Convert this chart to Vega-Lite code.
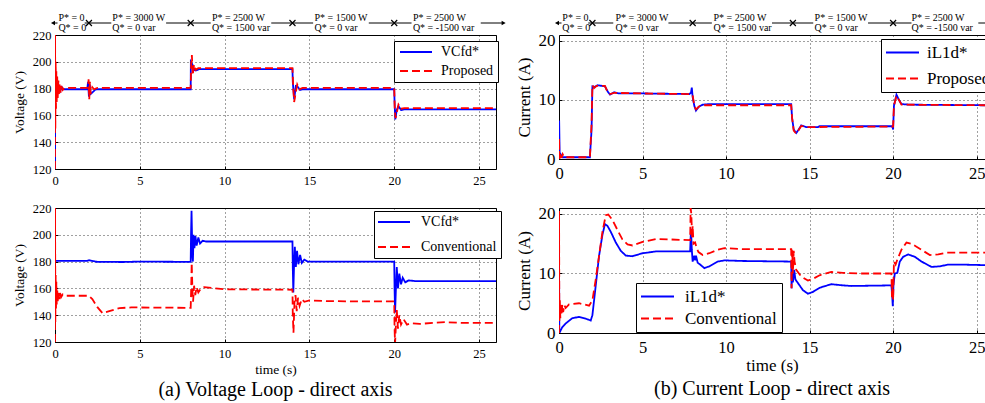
{
  "$schema": "https://vega.github.io/schema/vega-lite/v6.json",
  "background": "white",
  "padding": {"left": 11, "top": 11, "right": 0, "bottom": 0},
  "config": {
    "font": "Liberation Serif",
    "view": {"stroke": "#000", "strokeWidth": 1},
    "axis": {
      "labelFont": "Liberation Serif", "titleFont": "Liberation Serif", "titleFontWeight": "normal",
      "labelColor": "#000", "titleColor": "#000", "grid": true, "gridColor": "#000",
      "gridDash": [1, 3], "gridOpacity": 0.75, "domain": false, "ticks": true, "tickSize": -3,
      "tickColor": "#000", "tickWidth": 1,
      "labelFlush": false, "labelOverlap": false, "labelBound": false
    },
    "title": {"font": "Liberation Serif", "fontSize": 20, "fontWeight": "normal", "color": "#000", "orient": "bottom", "anchor": "middle"},
    "legend": {
      "orient": "none", "title": null, "direction": "vertical", "fillColor": "#fff", "strokeColor": "#000",
      "symbolStrokeWidth": 2, "symbolSize": 100, "labelFont": "Liberation Serif", "labelColor": "#000",
      "cornerRadius": 0
    }
  },
  "datasets": {
    "annLabels": [
      {"t": 0.2, "row": 1, "txt": "P* = 0"}, {"t": 0.2, "row": 0, "txt": "Q* = 0"},
      {"t": 3.38, "row": 1, "txt": "P* = 3000 W"}, {"t": 3.38, "row": 0, "txt": "Q* = 0 var"},
      {"t": 9.25, "row": 1, "txt": "P* = 2500 W"}, {"t": 9.25, "row": 0, "txt": "Q* = 1500 var"},
      {"t": 15.3, "row": 1, "txt": "P* = 1500 W"}, {"t": 15.3, "row": 0, "txt": "Q* = 0 var"},
      {"t": 21.1, "row": 1, "txt": "P* = 2500 W"}, {"t": 21.1, "row": 0, "txt": "Q* = -1500 var"}
    ],
    "annSteps": [{"t": 2}, {"t": 8}, {"t": 14}, {"t": 20}],
    "annSegL": [
      {"a": -0.1, "b": 0.15}, {"a": 1.75, "b": 3.32}, {"a": 6.55, "b": 9.18},
      {"a": 12.75, "b": 15.22}, {"a": 18.5, "b": 21.02}, {"a": 25.1, "b": 26.4}
    ],
    "annSegR": [
      {"a": -0.1, "b": 0.15}, {"a": 1.75, "b": 3.25}, {"a": 6.55, "b": 9.15},
      {"a": 12.75, "b": 15.22}, {"a": 18.5, "b": 21.1}, {"a": 25.1, "b": 25.5}
    ],
    "annArrowL": [{"t": -0.12, "dir": "left"}, {"t": 26.45, "dir": "right"}],
    "annArrowR": [{"t": -0.12, "dir": "left"}],
    "voltProposed": [
      {"s": "VCfd*", "t": 0, "v": 120}, {"s": "VCfd*", "t": 0.01, "v": 195}, {"s": "VCfd*", "t": 0.05, "v": 172},
      {"s": "VCfd*", "t": 0.1, "v": 186}, {"s": "VCfd*", "t": 0.15, "v": 176}, {"s": "VCfd*", "t": 0.2, "v": 183},
      {"s": "VCfd*", "t": 0.3, "v": 178}, {"s": "VCfd*", "t": 0.4, "v": 181}, {"s": "VCfd*", "t": 0.5, "v": 179.5},
      {"s": "VCfd*", "t": 1.9, "v": 179.5}, {"s": "VCfd*", "t": 1.95, "v": 185}, {"s": "VCfd*", "t": 2.0, "v": 174},
      {"s": "VCfd*", "t": 2.05, "v": 183}, {"s": "VCfd*", "t": 2.1, "v": 176}, {"s": "VCfd*", "t": 2.2, "v": 177},
      {"s": "VCfd*", "t": 2.35, "v": 179}, {"s": "VCfd*", "t": 2.5, "v": 179.5}, {"s": "VCfd*", "t": 8.0, "v": 179.5},
      {"s": "VCfd*", "t": 8.01, "v": 200}, {"s": "VCfd*", "t": 8.1, "v": 198}, {"s": "VCfd*", "t": 8.2, "v": 194},
      {"s": "VCfd*", "t": 8.3, "v": 193.5}, {"s": "VCfd*", "t": 8.5, "v": 194.5}, {"s": "VCfd*", "t": 14.0, "v": 194.5},
      {"s": "VCfd*", "t": 14.02, "v": 185}, {"s": "VCfd*", "t": 14.1, "v": 172}, {"s": "VCfd*", "t": 14.2, "v": 182},
      {"s": "VCfd*", "t": 14.3, "v": 181.5}, {"s": "VCfd*", "t": 14.45, "v": 179}, {"s": "VCfd*", "t": 14.6, "v": 179.5},
      {"s": "VCfd*", "t": 20.0, "v": 179.5}, {"s": "VCfd*", "t": 20.02, "v": 170}, {"s": "VCfd*", "t": 20.06, "v": 157},
      {"s": "VCfd*", "t": 20.15, "v": 164}, {"s": "VCfd*", "t": 20.25, "v": 167}, {"s": "VCfd*", "t": 20.4, "v": 164},
      {"s": "VCfd*", "t": 20.6, "v": 164.5}, {"s": "VCfd*", "t": 26, "v": 164.5},
      {"s": "Proposed", "t": 0, "v": 120}, {"s": "Proposed", "t": 0.005, "v": 220}, {"s": "Proposed", "t": 0.02, "v": 150},
      {"s": "Proposed", "t": 0.04, "v": 200}, {"s": "Proposed", "t": 0.06, "v": 165}, {"s": "Proposed", "t": 0.08, "v": 193},
      {"s": "Proposed", "t": 0.1, "v": 170}, {"s": "Proposed", "t": 0.13, "v": 189}, {"s": "Proposed", "t": 0.16, "v": 173},
      {"s": "Proposed", "t": 0.2, "v": 186}, {"s": "Proposed", "t": 0.24, "v": 175}, {"s": "Proposed", "t": 0.28, "v": 184},
      {"s": "Proposed", "t": 0.33, "v": 177}, {"s": "Proposed", "t": 0.38, "v": 182}, {"s": "Proposed", "t": 0.45, "v": 179},
      {"s": "Proposed", "t": 0.55, "v": 180.5}, {"s": "Proposed", "t": 1.95, "v": 180.5}, {"s": "Proposed", "t": 1.98, "v": 187},
      {"s": "Proposed", "t": 2.02, "v": 172}, {"s": "Proposed", "t": 2.06, "v": 185}, {"s": "Proposed", "t": 2.1, "v": 176},
      {"s": "Proposed", "t": 2.2, "v": 181}, {"s": "Proposed", "t": 2.3, "v": 179.5}, {"s": "Proposed", "t": 2.5, "v": 180.5},
      {"s": "Proposed", "t": 8.0, "v": 180.5}, {"s": "Proposed", "t": 8.03, "v": 198}, {"s": "Proposed", "t": 8.07, "v": 205},
      {"s": "Proposed", "t": 8.12, "v": 190}, {"s": "Proposed", "t": 8.2, "v": 198}, {"s": "Proposed", "t": 8.3, "v": 194},
      {"s": "Proposed", "t": 8.45, "v": 195.3}, {"s": "Proposed", "t": 14.0, "v": 195.3}, {"s": "Proposed", "t": 14.05, "v": 180},
      {"s": "Proposed", "t": 14.1, "v": 170}, {"s": "Proposed", "t": 14.18, "v": 176}, {"s": "Proposed", "t": 14.28, "v": 183},
      {"s": "Proposed", "t": 14.4, "v": 179.5}, {"s": "Proposed", "t": 14.6, "v": 180.5}, {"s": "Proposed", "t": 20.0, "v": 180.5},
      {"s": "Proposed", "t": 20.03, "v": 165}, {"s": "Proposed", "t": 20.08, "v": 158}, {"s": "Proposed", "t": 20.15, "v": 162},
      {"s": "Proposed", "t": 20.25, "v": 168}, {"s": "Proposed", "t": 20.4, "v": 165}, {"s": "Proposed", "t": 20.6, "v": 165.5},
      {"s": "Proposed", "t": 26, "v": 165.5}
    ],
    "currProposed": [
      {"s": "iL1d*", "t": 0, "v": 0}, {"s": "iL1d*", "t": 0.01, "v": 6.5}, {"s": "iL1d*", "t": 0.04, "v": 0.5},
      {"s": "iL1d*", "t": 0.1, "v": 0.8}, {"s": "iL1d*", "t": 0.2, "v": 0.3}, {"s": "iL1d*", "t": 1.85, "v": 0.3},
      {"s": "iL1d*", "t": 1.95, "v": 5}, {"s": "iL1d*", "t": 2.0, "v": 12.3}, {"s": "iL1d*", "t": 2.15, "v": 12.2},
      {"s": "iL1d*", "t": 2.3, "v": 12.5}, {"s": "iL1d*", "t": 2.75, "v": 12.3}, {"s": "iL1d*", "t": 2.9, "v": 11.5},
      {"s": "iL1d*", "t": 3.05, "v": 10.9}, {"s": "iL1d*", "t": 3.3, "v": 11.3}, {"s": "iL1d*", "t": 3.6, "v": 11.1},
      {"s": "iL1d*", "t": 5, "v": 11.1}, {"s": "iL1d*", "t": 7.8, "v": 11.0}, {"s": "iL1d*", "t": 7.9, "v": 11.2},
      {"s": "iL1d*", "t": 7.95, "v": 12.1}, {"s": "iL1d*", "t": 8.0, "v": 10.5}, {"s": "iL1d*", "t": 8.1, "v": 9},
      {"s": "iL1d*", "t": 8.2, "v": 8.2}, {"s": "iL1d*", "t": 8.35, "v": 8.8}, {"s": "iL1d*", "t": 8.6, "v": 9.2},
      {"s": "iL1d*", "t": 9, "v": 9.3}, {"s": "iL1d*", "t": 13.9, "v": 9.3}, {"s": "iL1d*", "t": 13.95, "v": 7},
      {"s": "iL1d*", "t": 14.05, "v": 5}, {"s": "iL1d*", "t": 14.2, "v": 4.4}, {"s": "iL1d*", "t": 14.35, "v": 5},
      {"s": "iL1d*", "t": 14.5, "v": 5.7}, {"s": "iL1d*", "t": 14.8, "v": 5.4}, {"s": "iL1d*", "t": 15.5, "v": 5.4},
      {"s": "iL1d*", "t": 15.6, "v": 5.55}, {"s": "iL1d*", "t": 19.95, "v": 5.55}, {"s": "iL1d*", "t": 20.0, "v": 5},
      {"s": "iL1d*", "t": 20.05, "v": 9}, {"s": "iL1d*", "t": 20.2, "v": 10.9}, {"s": "iL1d*", "t": 20.35, "v": 10},
      {"s": "iL1d*", "t": 20.5, "v": 9.3}, {"s": "iL1d*", "t": 21, "v": 9.2}, {"s": "iL1d*", "t": 25.5, "v": 9.1},
      {"s": "Proposed", "t": 0, "v": 0}, {"s": "Proposed", "t": 0.005, "v": 3.5}, {"s": "Proposed", "t": 0.02, "v": 0.2},
      {"s": "Proposed", "t": 0.05, "v": 1.2}, {"s": "Proposed", "t": 0.08, "v": 0.1}, {"s": "Proposed", "t": 0.12, "v": 1.0},
      {"s": "Proposed", "t": 0.16, "v": 0.2}, {"s": "Proposed", "t": 0.22, "v": 0.8}, {"s": "Proposed", "t": 0.3, "v": 0.3},
      {"s": "Proposed", "t": 1.85, "v": 0.3}, {"s": "Proposed", "t": 1.95, "v": 6}, {"s": "Proposed", "t": 2.0, "v": 12.5},
      {"s": "Proposed", "t": 2.1, "v": 12.0}, {"s": "Proposed", "t": 2.25, "v": 12.4}, {"s": "Proposed", "t": 2.75, "v": 12.4},
      {"s": "Proposed", "t": 2.9, "v": 11.4}, {"s": "Proposed", "t": 3.05, "v": 11.0}, {"s": "Proposed", "t": 3.3, "v": 11.2},
      {"s": "Proposed", "t": 5, "v": 11.1}, {"s": "Proposed", "t": 7.9, "v": 11.0}, {"s": "Proposed", "t": 8.0, "v": 10.8},
      {"s": "Proposed", "t": 8.1, "v": 9}, {"s": "Proposed", "t": 8.2, "v": 8.4}, {"s": "Proposed", "t": 8.4, "v": 8.9},
      {"s": "Proposed", "t": 8.7, "v": 9.1}, {"s": "Proposed", "t": 13.9, "v": 9.1}, {"s": "Proposed", "t": 13.95, "v": 7},
      {"s": "Proposed", "t": 14.05, "v": 4.8}, {"s": "Proposed", "t": 14.2, "v": 4.3}, {"s": "Proposed", "t": 14.35, "v": 4.9},
      {"s": "Proposed", "t": 14.5, "v": 5.6}, {"s": "Proposed", "t": 14.8, "v": 5.4}, {"s": "Proposed", "t": 20.0, "v": 5.5},
      {"s": "Proposed", "t": 20.05, "v": 9}, {"s": "Proposed", "t": 20.2, "v": 10.7}, {"s": "Proposed", "t": 20.35, "v": 10},
      {"s": "Proposed", "t": 20.5, "v": 9.2}, {"s": "Proposed", "t": 25.5, "v": 9.1}
    ],
    "voltConventional": [
      {"s": "VCfd*", "t": 0, "v": 180.5}, {"s": "VCfd*", "t": 1.9, "v": 180.5}, {"s": "VCfd*", "t": 2.0, "v": 181},
      {"s": "VCfd*", "t": 2.2, "v": 180.5}, {"s": "VCfd*", "t": 2.5, "v": 179.8}, {"s": "VCfd*", "t": 4, "v": 179.7},
      {"s": "VCfd*", "t": 5, "v": 180}, {"s": "VCfd*", "t": 8.0, "v": 179.8}, {"s": "VCfd*", "t": 8.02, "v": 200},
      {"s": "VCfd*", "t": 8.05, "v": 218}, {"s": "VCfd*", "t": 8.1, "v": 185}, {"s": "VCfd*", "t": 8.13, "v": 180},
      {"s": "VCfd*", "t": 8.17, "v": 200}, {"s": "VCfd*", "t": 8.22, "v": 190}, {"s": "VCfd*", "t": 8.28, "v": 199},
      {"s": "VCfd*", "t": 8.35, "v": 192}, {"s": "VCfd*", "t": 8.45, "v": 198}, {"s": "VCfd*", "t": 8.55, "v": 193.5},
      {"s": "VCfd*", "t": 8.7, "v": 195.5}, {"s": "VCfd*", "t": 8.9, "v": 195}, {"s": "VCfd*", "t": 14.0, "v": 195},
      {"s": "VCfd*", "t": 14.02, "v": 175}, {"s": "VCfd*", "t": 14.05, "v": 157}, {"s": "VCfd*", "t": 14.1, "v": 180},
      {"s": "VCfd*", "t": 14.14, "v": 191}, {"s": "VCfd*", "t": 14.2, "v": 176}, {"s": "VCfd*", "t": 14.27, "v": 188},
      {"s": "VCfd*", "t": 14.35, "v": 178}, {"s": "VCfd*", "t": 14.45, "v": 185}, {"s": "VCfd*", "t": 14.55, "v": 179},
      {"s": "VCfd*", "t": 14.7, "v": 181.5}, {"s": "VCfd*", "t": 14.9, "v": 180}, {"s": "VCfd*", "t": 20.0, "v": 180},
      {"s": "VCfd*", "t": 20.02, "v": 160}, {"s": "VCfd*", "t": 20.05, "v": 142}, {"s": "VCfd*", "t": 20.1, "v": 160},
      {"s": "VCfd*", "t": 20.15, "v": 176}, {"s": "VCfd*", "t": 20.22, "v": 160}, {"s": "VCfd*", "t": 20.3, "v": 171},
      {"s": "VCfd*", "t": 20.4, "v": 163}, {"s": "VCfd*", "t": 20.5, "v": 168}, {"s": "VCfd*", "t": 20.65, "v": 164.5},
      {"s": "VCfd*", "t": 20.85, "v": 166}, {"s": "VCfd*", "t": 21.2, "v": 165.5}, {"s": "VCfd*", "t": 26, "v": 165.5},
      {"s": "Conventional", "t": 0, "v": 120}, {"s": "Conventional", "t": 0.005, "v": 220}, {"s": "Conventional", "t": 0.02, "v": 135},
      {"s": "Conventional", "t": 0.04, "v": 170}, {"s": "Conventional", "t": 0.06, "v": 145}, {"s": "Conventional", "t": 0.08, "v": 165},
      {"s": "Conventional", "t": 0.1, "v": 148}, {"s": "Conventional", "t": 0.13, "v": 160}, {"s": "Conventional", "t": 0.16, "v": 150},
      {"s": "Conventional", "t": 0.2, "v": 158}, {"s": "Conventional", "t": 0.25, "v": 152}, {"s": "Conventional", "t": 0.3, "v": 156.5},
      {"s": "Conventional", "t": 0.36, "v": 153.5}, {"s": "Conventional", "t": 0.45, "v": 155.5}, {"s": "Conventional", "t": 0.6, "v": 154.5},
      {"s": "Conventional", "t": 2.0, "v": 154.5}, {"s": "Conventional", "t": 2.2, "v": 152}, {"s": "Conventional", "t": 2.5, "v": 146},
      {"s": "Conventional", "t": 2.8, "v": 141.5}, {"s": "Conventional", "t": 3.2, "v": 143}, {"s": "Conventional", "t": 3.8, "v": 145.3},
      {"s": "Conventional", "t": 4.5, "v": 145.8}, {"s": "Conventional", "t": 8.0, "v": 145.5}, {"s": "Conventional", "t": 8.03, "v": 160},
      {"s": "Conventional", "t": 8.06, "v": 179}, {"s": "Conventional", "t": 8.1, "v": 160}, {"s": "Conventional", "t": 8.14, "v": 150},
      {"s": "Conventional", "t": 8.2, "v": 162}, {"s": "Conventional", "t": 8.27, "v": 155}, {"s": "Conventional", "t": 8.35, "v": 161},
      {"s": "Conventional", "t": 8.45, "v": 157}, {"s": "Conventional", "t": 8.6, "v": 160}, {"s": "Conventional", "t": 8.8, "v": 161},
      {"s": "Conventional", "t": 10, "v": 159.3}, {"s": "Conventional", "t": 14.0, "v": 159}, {"s": "Conventional", "t": 14.02, "v": 140},
      {"s": "Conventional", "t": 14.06, "v": 127}, {"s": "Conventional", "t": 14.12, "v": 150}, {"s": "Conventional", "t": 14.18, "v": 155},
      {"s": "Conventional", "t": 14.25, "v": 143}, {"s": "Conventional", "t": 14.33, "v": 153}, {"s": "Conventional", "t": 14.42, "v": 147},
      {"s": "Conventional", "t": 14.55, "v": 152}, {"s": "Conventional", "t": 14.7, "v": 150}, {"s": "Conventional", "t": 15.0, "v": 151},
      {"s": "Conventional", "t": 16, "v": 150.5}, {"s": "Conventional", "t": 18, "v": 150.3}, {"s": "Conventional", "t": 20.0, "v": 150.3},
      {"s": "Conventional", "t": 20.02, "v": 130}, {"s": "Conventional", "t": 20.05, "v": 119}, {"s": "Conventional", "t": 20.1, "v": 133},
      {"s": "Conventional", "t": 20.15, "v": 144}, {"s": "Conventional", "t": 20.22, "v": 130}, {"s": "Conventional", "t": 20.3, "v": 140},
      {"s": "Conventional", "t": 20.4, "v": 133}, {"s": "Conventional", "t": 20.55, "v": 137}, {"s": "Conventional", "t": 20.75, "v": 133},
      {"s": "Conventional", "t": 21, "v": 134}, {"s": "Conventional", "t": 21.5, "v": 133.5}, {"s": "Conventional", "t": 22.5, "v": 134.5},
      {"s": "Conventional", "t": 23, "v": 134.8}, {"s": "Conventional", "t": 24, "v": 134.2}, {"s": "Conventional", "t": 26, "v": 134.3}
    ],
    "currConventional": [
      {"s": "iL1d*", "t": 0, "v": 15}, {"s": "iL1d*", "t": 0.02, "v": 0}, {"s": "iL1d*", "t": 0.2, "v": 1},
      {"s": "iL1d*", "t": 0.4, "v": 1.6}, {"s": "iL1d*", "t": 0.8, "v": 2.5}, {"s": "iL1d*", "t": 1.2, "v": 2.7},
      {"s": "iL1d*", "t": 1.6, "v": 2.4}, {"s": "iL1d*", "t": 1.9, "v": 2.1}, {"s": "iL1d*", "t": 2.0, "v": 3},
      {"s": "iL1d*", "t": 2.2, "v": 8}, {"s": "iL1d*", "t": 2.4, "v": 13}, {"s": "iL1d*", "t": 2.6, "v": 16.5},
      {"s": "iL1d*", "t": 2.75, "v": 18.3}, {"s": "iL1d*", "t": 2.9, "v": 18}, {"s": "iL1d*", "t": 3.1, "v": 17},
      {"s": "iL1d*", "t": 3.4, "v": 15.2}, {"s": "iL1d*", "t": 3.7, "v": 13.8}, {"s": "iL1d*", "t": 4.0, "v": 13},
      {"s": "iL1d*", "t": 4.4, "v": 12.9}, {"s": "iL1d*", "t": 5.0, "v": 13.4}, {"s": "iL1d*", "t": 5.8, "v": 13.7},
      {"s": "iL1d*", "t": 7.85, "v": 13.7}, {"s": "iL1d*", "t": 7.9, "v": 17.5}, {"s": "iL1d*", "t": 7.95, "v": 14},
      {"s": "iL1d*", "t": 8.0, "v": 12}, {"s": "iL1d*", "t": 8.1, "v": 13}, {"s": "iL1d*", "t": 8.15, "v": 12.2},
      {"s": "iL1d*", "t": 8.2, "v": 13}, {"s": "iL1d*", "t": 8.3, "v": 11.8}, {"s": "iL1d*", "t": 8.45, "v": 11.5},
      {"s": "iL1d*", "t": 8.7, "v": 10.9}, {"s": "iL1d*", "t": 9.0, "v": 11.2}, {"s": "iL1d*", "t": 9.5, "v": 12},
      {"s": "iL1d*", "t": 9.9, "v": 12.2}, {"s": "iL1d*", "t": 11, "v": 12.1}, {"s": "iL1d*", "t": 13.9, "v": 12},
      {"s": "iL1d*", "t": 13.92, "v": 7.5}, {"s": "iL1d*", "t": 13.95, "v": 10}, {"s": "iL1d*", "t": 14.0, "v": 8.5},
      {"s": "iL1d*", "t": 14.08, "v": 10.6}, {"s": "iL1d*", "t": 14.15, "v": 9}, {"s": "iL1d*", "t": 14.3, "v": 8.4},
      {"s": "iL1d*", "t": 14.6, "v": 7.2}, {"s": "iL1d*", "t": 14.9, "v": 6.6}, {"s": "iL1d*", "t": 15.2, "v": 6.9},
      {"s": "iL1d*", "t": 15.6, "v": 7.6}, {"s": "iL1d*", "t": 16.3, "v": 8.2}, {"s": "iL1d*", "t": 17.0, "v": 8.0},
      {"s": "iL1d*", "t": 17.5, "v": 7.9}, {"s": "iL1d*", "t": 19.9, "v": 8.0}, {"s": "iL1d*", "t": 19.95, "v": 6},
      {"s": "iL1d*", "t": 19.98, "v": 4.5}, {"s": "iL1d*", "t": 20.02, "v": 8}, {"s": "iL1d*", "t": 20.1, "v": 10},
      {"s": "iL1d*", "t": 20.25, "v": 10.1}, {"s": "iL1d*", "t": 20.4, "v": 12}, {"s": "iL1d*", "t": 20.6, "v": 12.8},
      {"s": "iL1d*", "t": 20.9, "v": 13.2}, {"s": "iL1d*", "t": 21.3, "v": 12.8}, {"s": "iL1d*", "t": 21.7, "v": 12},
      {"s": "iL1d*", "t": 22.3, "v": 11.1}, {"s": "iL1d*", "t": 22.8, "v": 11.2}, {"s": "iL1d*", "t": 23.3, "v": 11.5},
      {"s": "iL1d*", "t": 24, "v": 11.5}, {"s": "iL1d*", "t": 25.5, "v": 11.4},
      {"s": "Conventional", "t": 0, "v": 0}, {"s": "Conventional", "t": 0.005, "v": 20.5}, {"s": "Conventional", "t": 0.02, "v": 2},
      {"s": "Conventional", "t": 0.05, "v": 5.5}, {"s": "Conventional", "t": 0.08, "v": 2.5}, {"s": "Conventional", "t": 0.11, "v": 5},
      {"s": "Conventional", "t": 0.15, "v": 3}, {"s": "Conventional", "t": 0.2, "v": 4.8}, {"s": "Conventional", "t": 0.25, "v": 3.5},
      {"s": "Conventional", "t": 0.32, "v": 4.7}, {"s": "Conventional", "t": 0.4, "v": 4.2}, {"s": "Conventional", "t": 0.6, "v": 4.8},
      {"s": "Conventional", "t": 1.2, "v": 5.0}, {"s": "Conventional", "t": 1.8, "v": 4.6}, {"s": "Conventional", "t": 2.0, "v": 5.5},
      {"s": "Conventional", "t": 2.2, "v": 9}, {"s": "Conventional", "t": 2.4, "v": 13}, {"s": "Conventional", "t": 2.6, "v": 17},
      {"s": "Conventional", "t": 2.8, "v": 19.8}, {"s": "Conventional", "t": 2.95, "v": 19.9}, {"s": "Conventional", "t": 3.2, "v": 19},
      {"s": "Conventional", "t": 3.5, "v": 17.3}, {"s": "Conventional", "t": 3.8, "v": 15.7}, {"s": "Conventional", "t": 4.1, "v": 14.9},
      {"s": "Conventional", "t": 4.4, "v": 14.7}, {"s": "Conventional", "t": 5.0, "v": 15.3}, {"s": "Conventional", "t": 5.8, "v": 15.8},
      {"s": "Conventional", "t": 7.85, "v": 15.6}, {"s": "Conventional", "t": 7.88, "v": 21}, {"s": "Conventional", "t": 7.92, "v": 20},
      {"s": "Conventional", "t": 7.97, "v": 16}, {"s": "Conventional", "t": 8.0, "v": 18}, {"s": "Conventional", "t": 8.05, "v": 15},
      {"s": "Conventional", "t": 8.15, "v": 15.2}, {"s": "Conventional", "t": 8.25, "v": 14.2}, {"s": "Conventional", "t": 8.35, "v": 13.6},
      {"s": "Conventional", "t": 8.6, "v": 13.1}, {"s": "Conventional", "t": 9.0, "v": 13.4}, {"s": "Conventional", "t": 9.5, "v": 14},
      {"s": "Conventional", "t": 9.9, "v": 14.25}, {"s": "Conventional", "t": 11, "v": 14.1}, {"s": "Conventional", "t": 13.9, "v": 14.1},
      {"s": "Conventional", "t": 13.92, "v": 7.5}, {"s": "Conventional", "t": 13.96, "v": 14}, {"s": "Conventional", "t": 14.0, "v": 10},
      {"s": "Conventional", "t": 14.05, "v": 13.8}, {"s": "Conventional", "t": 14.1, "v": 12}, {"s": "Conventional", "t": 14.2, "v": 10.6},
      {"s": "Conventional", "t": 14.5, "v": 9.5}, {"s": "Conventional", "t": 14.9, "v": 8.8}, {"s": "Conventional", "t": 15.2, "v": 9.1},
      {"s": "Conventional", "t": 15.6, "v": 9.7}, {"s": "Conventional", "t": 16.3, "v": 10.25}, {"s": "Conventional", "t": 17, "v": 10.1},
      {"s": "Conventional", "t": 18, "v": 10.0}, {"s": "Conventional", "t": 19.9, "v": 10.0}, {"s": "Conventional", "t": 19.93, "v": 6},
      {"s": "Conventional", "t": 19.97, "v": 9}, {"s": "Conventional", "t": 20.0, "v": 5.5}, {"s": "Conventional", "t": 20.05, "v": 12},
      {"s": "Conventional", "t": 20.15, "v": 11.5}, {"s": "Conventional", "t": 20.25, "v": 12.3}, {"s": "Conventional", "t": 20.5, "v": 14},
      {"s": "Conventional", "t": 20.8, "v": 15.2}, {"s": "Conventional", "t": 21.1, "v": 15}, {"s": "Conventional", "t": 21.4, "v": 14.5},
      {"s": "Conventional", "t": 22.2, "v": 13.1}, {"s": "Conventional", "t": 22.7, "v": 13.2}, {"s": "Conventional", "t": 23.2, "v": 13.5},
      {"s": "Conventional", "t": 25.5, "v": 13.5}
    ]
  },
  "columns": 2,
  "spacing": {"row": 39, "column": 63},
  "bounds": "flush",
  "resolve": {
    "scale": {"color": "independent", "strokeDash": "independent"},
    "legend": {"color": "independent", "strokeDash": "independent"}
  },
  "concat": [
    {
      "width": 441, "height": 134,
      "resolve": {"scale": {"y": "independent"}},
      "layer": [
        {
          "data": {"name": "voltProposed"},
          "mark": {"type": "line", "clip": true, "strokeWidth": 1.8},
          "encoding": {
            "x": {"field": "t", "type": "quantitative", "scale": {"domain": [0, 26], "nice": false},
                  "axis": {"values": [0, 5, 10, 15, 20, 25], "title": null, "labelFontSize": 12.5, "labelPadding": 8}},
            "y": {"field": "v", "type": "quantitative", "scale": {"domain": [120, 220], "nice": false, "zero": false},
                  "axis": {"values": [120, 140, 160, 180, 200, 220], "title": "Voltage (V)", "labelFontSize": 12.5, "labelPadding": 7, "titleFontSize": 13.5, "titlePadding": 6}},
            "color": {"field": "s", "type": "nominal", "sort": null,
                      "scale": {"domain": ["VCfd*", "Proposed"], "range": ["#0000ff", "#ff0000"]},
                      "legend": {"legendX": 339, "legendY": 6, "padding": 4, "rowPadding": 5, "symbolType": "M-3.2,0H3.2", "symbolOffset": 11, "labelOffset": 18, "labelFontSize": 14}},
            "strokeDash": {"field": "s", "type": "nominal", "sort": null,
                           "scale": {"domain": ["VCfd*", "Proposed"], "range": [[1, 0], [8, 4]]},
                           "legend": {"legendX": 339, "legendY": 6, "padding": 4, "rowPadding": 5, "symbolType": "M-3.2,0H3.2", "symbolOffset": 11, "labelOffset": 18, "labelFontSize": 14}}
          }
        },
        {
          "data": {"name": "annSegL"},
          "mark": {"type": "rule", "color": "#000", "strokeWidth": 1},
          "encoding": {
            "x": {"field": "a", "type": "quantitative", "scale": {"domain": [0, 26], "nice": false}},
            "x2": {"field": "b"},
            "y": {"datum": 0.45, "type": "quantitative", "scale": {"domain": [-14.15, -0.75], "nice": false, "zero": false}, "axis": null}
          }
        },
        {
          "data": {"name": "annSteps"},
          "mark": {"type": "point", "shape": "M-1,-1L1,1M-1,1L1,-1", "size": 36, "filled": false, "color": "#000", "strokeWidth": 1.2, "opacity": 1},
          "encoding": {
            "x": {"field": "t", "type": "quantitative", "scale": {"domain": [0, 26], "nice": false}},
            "y": {"datum": 0.45, "type": "quantitative", "scale": {"domain": [-14.15, -0.75], "nice": false, "zero": false}, "axis": null}
          }
        },
        {
          "data": {"name": "annArrowL"},
          "mark": {"type": "point", "size": 22, "filled": true, "color": "#000", "strokeWidth": 0, "opacity": 1},
          "encoding": {
            "x": {"field": "t", "type": "quantitative", "scale": {"domain": [0, 26], "nice": false}},
            "y": {"datum": 0.45, "type": "quantitative", "scale": {"domain": [-14.15, -0.75], "nice": false, "zero": false}, "axis": null},
            "shape": {"field": "dir", "type": "nominal", "scale": {"domain": ["left", "right"], "range": ["triangle-left", "triangle-right"]}, "legend": null}
          }
        },
        {
          "data": {"name": "annLabels"},
          "mark": {"type": "text", "align": "left", "baseline": "middle", "fontSize": 10, "font": "Liberation Serif", "color": "#000"},
          "encoding": {
            "x": {"field": "t", "type": "quantitative", "scale": {"domain": [0, 26], "nice": false}},
            "y": {"field": "row", "type": "quantitative", "scale": {"domain": [-14.15, -0.75], "nice": false, "zero": false}, "axis": null},
            "text": {"field": "txt"}
          }
        }
      ]
    },
    {
      "width": 426, "height": 124,
      "resolve": {"scale": {"y": "independent"}},
      "layer": [
        {
          "data": {"name": "currProposed"},
          "mark": {"type": "line", "clip": true, "strokeWidth": 1.8},
          "encoding": {
            "x": {"field": "t", "type": "quantitative", "scale": {"domain": [0, 25.5], "nice": false},
                  "axis": {"values": [0, 5, 10, 15, 20, 25], "title": null, "labelFontSize": 16.5, "labelPadding": 9}},
            "y": {"field": "v", "type": "quantitative", "scale": {"domain": [0, 21], "nice": false},
                  "axis": {"values": [0, 10, 20], "title": "Current (A)", "labelFontSize": 17, "labelPadding": 7, "titleFontSize": 17, "titlePadding": 5}},
            "color": {"field": "s", "type": "nominal", "sort": null,
                      "scale": {"domain": ["iL1d*", "Proposed"], "range": ["#0000ff", "#ff0000"]},
                      "legend": {"legendX": 322, "legendY": 4, "padding": 5, "rowPadding": 8, "symbolType": "M-3.3,0H3.3", "symbolOffset": 8, "labelOffset": 16, "labelFontSize": 17}},
            "strokeDash": {"field": "s", "type": "nominal", "sort": null,
                           "scale": {"domain": ["iL1d*", "Proposed"], "range": [[1, 0], [8, 4]]},
                           "legend": {"legendX": 322, "legendY": 4, "padding": 5, "rowPadding": 8, "symbolType": "M-3.3,0H3.3", "symbolOffset": 8, "labelOffset": 16, "labelFontSize": 17}}
          }
        },
        {
          "data": {"name": "annSegR"},
          "mark": {"type": "rule", "color": "#000", "strokeWidth": 1},
          "encoding": {
            "x": {"field": "a", "type": "quantitative", "scale": {"domain": [0, 25.5], "nice": false}},
            "x2": {"field": "b"},
            "y": {"datum": 0.45, "type": "quantitative", "scale": {"domain": [-13.15, -0.75], "nice": false, "zero": false}, "axis": null}
          }
        },
        {
          "data": {"name": "annSteps"},
          "mark": {"type": "point", "shape": "M-1,-1L1,1M-1,1L1,-1", "size": 36, "filled": false, "color": "#000", "strokeWidth": 1.2, "opacity": 1},
          "encoding": {
            "x": {"field": "t", "type": "quantitative", "scale": {"domain": [0, 25.5], "nice": false}},
            "y": {"datum": 0.45, "type": "quantitative", "scale": {"domain": [-13.15, -0.75], "nice": false, "zero": false}, "axis": null}
          }
        },
        {
          "data": {"name": "annArrowR"},
          "mark": {"type": "point", "shape": "triangle-left", "size": 22, "filled": true, "color": "#000", "strokeWidth": 0, "opacity": 1},
          "encoding": {
            "x": {"field": "t", "type": "quantitative", "scale": {"domain": [0, 25.5], "nice": false}},
            "y": {"datum": 0.45, "type": "quantitative", "scale": {"domain": [-13.15, -0.75], "nice": false, "zero": false}, "axis": null}
          }
        },
        {
          "data": {"name": "annLabels"},
          "mark": {"type": "text", "align": "left", "baseline": "middle", "fontSize": 10, "font": "Liberation Serif", "color": "#000"},
          "encoding": {
            "x": {"field": "t", "type": "quantitative", "scale": {"domain": [0, 25.5], "nice": false}},
            "y": {"field": "row", "type": "quantitative", "scale": {"domain": [-13.15, -0.75], "nice": false, "zero": false}, "axis": null},
            "text": {"field": "txt"}
          }
        }
      ]
    },
    {
      "width": 441, "height": 134,
      "title": {"text": "(a) Voltage Loop - direct axis", "offset": 4},
      "data": {"name": "voltConventional"},
      "mark": {"type": "line", "clip": true, "strokeWidth": 1.8},
      "encoding": {
        "x": {"field": "t", "type": "quantitative", "scale": {"domain": [0, 26], "nice": false},
              "axis": {"values": [0, 5, 10, 15, 20, 25], "title": "time (s)", "labelFontSize": 12.5, "labelPadding": 8, "titleFontSize": 13.5, "titlePadding": 3}},
        "y": {"field": "v", "type": "quantitative", "scale": {"domain": [120, 220], "nice": false, "zero": false},
              "axis": {"values": [120, 140, 160, 180, 200, 220], "title": "Voltage (V)", "labelFontSize": 12.5, "labelPadding": 7, "titleFontSize": 13.5, "titlePadding": 6}},
        "color": {"field": "s", "type": "nominal", "sort": null,
                  "scale": {"domain": ["VCfd*", "Conventional"], "range": ["#0000ff", "#ff0000"]},
                  "legend": {"legendX": 319, "legendY": 3, "padding": 4, "rowPadding": 11, "symbolType": "M-3.2,0H3.2", "symbolOffset": 9, "labelOffset": 20, "labelFontSize": 14}},
        "strokeDash": {"field": "s", "type": "nominal", "sort": null,
                       "scale": {"domain": ["VCfd*", "Conventional"], "range": [[1, 0], [8, 4]]},
                       "legend": {"legendX": 319, "legendY": 3, "padding": 4, "rowPadding": 11, "symbolType": "M-3.2,0H3.2", "symbolOffset": 9, "labelOffset": 20, "labelFontSize": 14}}
      }
    },
    {
      "width": 426, "height": 125,
      "title": {"text": "(b) Current Loop - direct axis", "offset": 5},
      "data": {"name": "currConventional"},
      "mark": {"type": "line", "clip": true, "strokeWidth": 1.8},
      "encoding": {
        "x": {"field": "t", "type": "quantitative", "scale": {"domain": [0, 25.5], "nice": false},
              "axis": {"values": [0, 5, 10, 15, 20, 25], "title": "time (s)", "labelFontSize": 16.5, "labelPadding": 9, "titleFontSize": 17, "titlePadding": 2}},
        "y": {"field": "v", "type": "quantitative", "scale": {"domain": [0, 21], "nice": false},
              "axis": {"values": [0, 10, 20], "title": "Current (A)", "labelFontSize": 17, "labelPadding": 7, "titleFontSize": 17, "titlePadding": 5}},
        "color": {"field": "s", "type": "nominal", "sort": null,
                  "scale": {"domain": ["iL1d*", "Conventional"], "range": ["#0000ff", "#ff0000"]},
                  "legend": {"legendX": 77, "legendY": 75, "padding": 5, "rowPadding": 4, "symbolType": "M-3.3,0H3.3", "symbolOffset": 8, "labelOffset": 19, "labelFontSize": 17}},
        "strokeDash": {"field": "s", "type": "nominal", "sort": null,
                       "scale": {"domain": ["iL1d*", "Conventional"], "range": [[1, 0], [8, 4]]},
                       "legend": {"legendX": 77, "legendY": 75, "padding": 5, "rowPadding": 4, "symbolType": "M-3.3,0H3.3", "symbolOffset": 8, "labelOffset": 19, "labelFontSize": 17}}
      }
    }
  ]
}
